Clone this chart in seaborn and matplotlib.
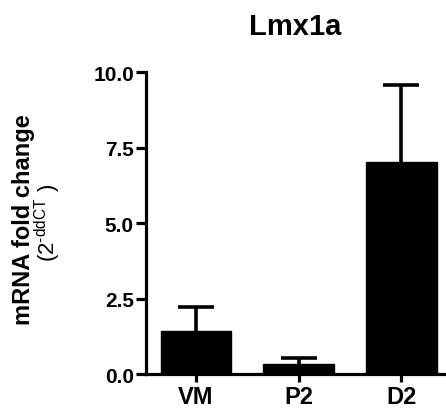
import matplotlib
matplotlib.use("Agg")
import matplotlib.pyplot as plt
import seaborn as sns
import pandas as pd

# data
groups = ["VM", "P2", "D2"]
fold_change = [1.44, 0.33, 7.03]
sem = [0.78, 0.21, 2.56]

sns.set_theme(style="ticks")
plt.rcParams["font.family"] = ["Liberation Sans", "DejaVu Sans"]
plt.rcParams["mathtext.fontset"] = "custom"
plt.rcParams["mathtext.rm"] = "Liberation Sans"
plt.rcParams["mathtext.default"] = "regular"
plt.rcParams["text.color"] = "black"

df = pd.DataFrame({"group": groups, "value": fold_change})

fig = plt.figure(figsize=(4.46, 4.14), dpi=100)
ax = fig.add_axes([0.3267, 0.0942, 0.70, 0.7287])

sns.barplot(data=df, x="group", y="value", color="black", width=0.69,
            errorbar=None, saturation=1, edgecolor="black", ax=ax)
eb = ax.errorbar(range(len(groups)), fold_change, yerr=[[0] * len(sem), sem],
                 fmt="none", ecolor="black", elinewidth=2.6, capsize=13, capthick=2.6)
# only the upper cap is shown
eb[1][0].set_visible(False)

ax.set_xlim(-0.49, 2.55)
ax.set_ylim(0, 10)
ax.set_yticks([0, 2.5, 5.0, 7.5, 10.0])
ax.set_yticklabels(["0.0", "2.5", "5.0", "7.5", "10.0"])
ax.set_xlabel("")
ax.set_ylabel("")

for side in ["top", "right"]:
    ax.spines[side].set_visible(False)
for side in ["left", "bottom"]:
    ax.spines[side].set_linewidth(2.3)
    ax.spines[side].set_color("black")
ax.tick_params(axis="y", length=7.5, width=2.3, labelsize=15, pad=1, colors="black")
ax.tick_params(axis="x", length=6, width=2.3, labelsize=17, pad=2, colors="black")
for lab in ax.get_xticklabels() + ax.get_yticklabels():
    lab.set_fontweight("bold")

fig.text(295 / 446, 1 - 27 / 414, "Lmx1a", ha="center", va="center",
         fontsize=21, fontweight="bold")
fig.text(24 / 446, 1 - 220 / 414, "mRNA fold change", rotation=90,
         ha="center", va="center", fontsize=17, fontweight="bold")
fig.text(48 / 446, 1 - 223 / 414, "(2$^{\u2010ddCT}$ )", rotation=90,
         ha="center", va="center", fontsize=16)

fig.savefig("out.png", dpi=100)
